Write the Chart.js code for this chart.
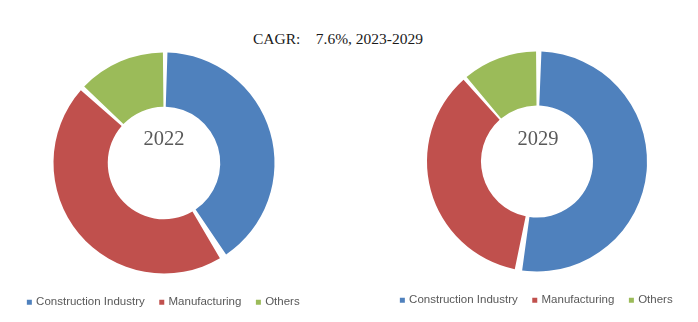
<!DOCTYPE html>
<html>
<head>
<meta charset="utf-8">
<script src="https://cdn.jsdelivr.net/npm/chart.js@4.4.0/dist/chart.umd.min.js"></script>
<style>
  html, body { margin: 0; padding: 0; background: #fff; }
  body { width: 698px; height: 322px; position: relative; overflow: hidden; }
  #title { position: absolute; left: 0; width: 676px; top: 30px; text-align: center;
           font-family: "Liberation Serif", "DejaVu Serif", serif; font-size: 15.5px; color: #1a1a1a; white-space: pre; }
  .box { position: absolute; }
</style>
</head>
<body>
<div id="title">CAGR:    7.6%, 2023-2029</div>
<div class="box" id="b1" style="left:4px; top:36px; width:320px; height:282px;"><canvas id="c1"></canvas></div>
<div class="box" id="b2" style="left:377px; top:35px; width:320px; height:281px;"><canvas id="c2"></canvas></div>
<script>
const categories = ["Construction Industry", "Manufacturing", "Others"];
const years = ["2022", "2029"];
const share2022 = [41, 46, 13];
const share2029 = [52.8, 36, 11.2];
const colors = ["#4F81BD", "#C0504D", "#9BBB59"];

const centerText = {
  id: 'centerText',
  afterDatasetsDraw(chart, args, opts) {
    const meta = chart.getDatasetMeta(0);
    const arc = meta.data[0];
    if (!arc) return;
    const ctx = chart.ctx;
    ctx.save();
    ctx.font = '20.5px "Liberation Serif", "DejaVu Serif", serif';
    ctx.fillStyle = '#595959';
    ctx.textAlign = 'center';
    ctx.textBaseline = 'middle';
    ctx.fillText(opts.text, arc.x + opts.dx, arc.y + opts.dy);
    ctx.restore();
  }
};

function makeChart(id, data, year, dx, dy) {
  return new Chart(document.getElementById(id), {
    type: 'doughnut',
    data: {
      labels: categories,
      datasets: [{ data: data, backgroundColor: colors, borderWidth: 0, spacing: 4 }]
    },
    options: {
      responsive: true,
      maintainAspectRatio: false,
      animation: false,
      cutout: '50%',
      layout: { padding: { top: 16.5, bottom: 0 } },
      plugins: {
        legend: {
          position: 'bottom',
          title: { display: true, text: ' ', font: { size: 1 }, padding: { top: 5.8, bottom: 0 } },
          labels: {
            usePointStyle: true, pointStyle: 'rect', boxWidth: 2, boxHeight: 5,
            padding: 16, color: '#595959',
            font: { family: '"Liberation Sans", Arial, sans-serif', size: 11.5 }
          }
        },
        tooltip: { enabled: false },
        centerText: { text: year, dx: dx, dy: dy }
      }
    },
    plugins: [centerText]
  });
}
makeChart('c1', share2022, years[0], 0, -23);
makeChart('c2', share2029, years[1], 1, -22);
</script>
</body>
</html>
